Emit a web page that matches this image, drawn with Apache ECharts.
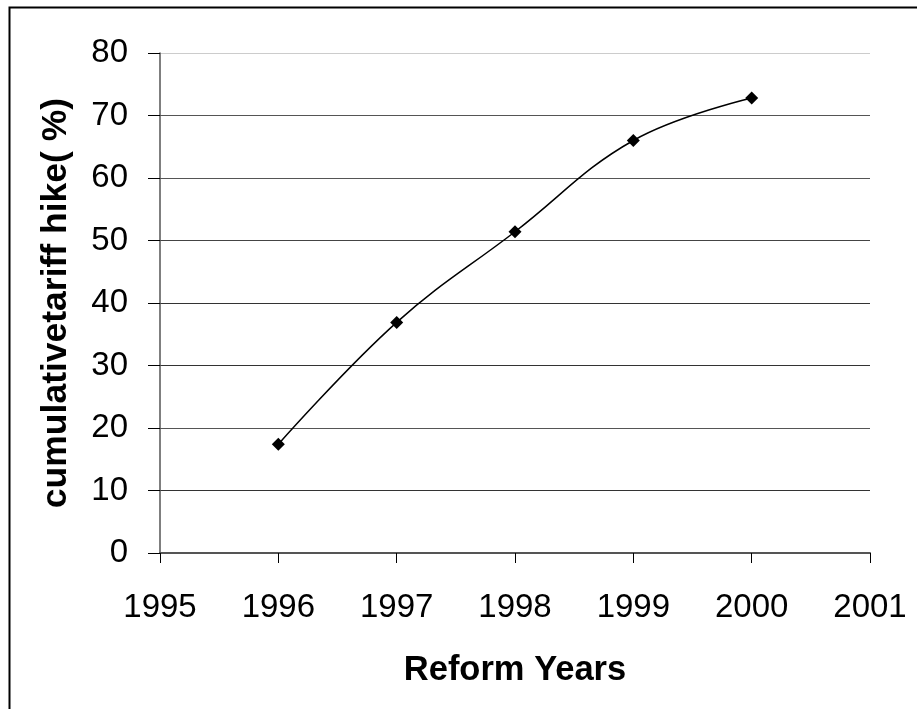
<!DOCTYPE html>
<html>
<head>
<meta charset="utf-8">
<script src="https://cdn.jsdelivr.net/npm/echarts@6/dist/echarts.min.js"></script>
<style>html,body{margin:0;padding:0;background:#fff}#c{width:917px;height:709px}</style>
</head>
<body>
<div id="c"></div>
<script>
var years = [1996, 1997, 1998, 1999, 2000];
var hike = [17.4, 36.9, 51.4, 66.0, 72.8];
var xTitle = 'Reform Years';
var yTitle = 'cumulativetariff hike( %)';

var chart = echarts.init(document.getElementById('c'), null, {renderer: 'canvas'});
var font = '"Liberation Sans", Arial, sans-serif';
chart.setOption({
  animation: false,
  backgroundColor: '#fff',
  graphic: [{
    type: 'rect',
    shape: {x: 9.5, y: 7.5, width: 1000, height: 1000},
    style: {fill: 'none', stroke: '#000', lineWidth: 2}
  }],
  grid: {left: 160, right: 47, top: 53, bottom: 156, containLabel: false},
  xAxis: {
    type: 'value', min: 1995, max: 2001, interval: 1,
    name: xTitle, nameLocation: 'middle', nameGap: 100,
    nameTextStyle: {fontFamily: font, fontSize: 34.5, fontWeight: 'bold', color: '#000'},
    axisLine: {show: true, lineStyle: {color: '#555', width: 2}},
    axisTick: {show: true, length: 10, lineStyle: {color: '#000', width: 1}},
    axisLabel: {fontFamily: font, fontSize: 33, color: '#000', margin: 38,
      formatter: function (v) { return String(v); }},
    splitLine: {show: false}
  },
  yAxis: {
    type: 'value', min: 0, max: 80, interval: 10,
    name: yTitle, nameLocation: 'middle', nameGap: 86,
    nameTextStyle: {fontFamily: font, fontSize: 35.5, fontWeight: 'bold', color: '#000'},
    axisLine: {show: true, lineStyle: {color: '#555', width: 1.5}},
    axisTick: {show: true, length: 12, lineStyle: {color: '#000', width: 1}},
    axisLabel: {fontFamily: font, fontSize: 33, color: '#000', margin: 32},
    splitLine: {show: true, lineStyle: {color: ['#555','#333','#555','#333','#333','#444','#555','#555','#ccc'], width: 1}}
  },
  series: [{
    type: 'line',
    data: years.map(function (y, i) { return [y, hike[i]]; }),
    smooth: 0.4,
    symbol: 'diamond',
    symbolSize: 13,
    itemStyle: {color: '#000'},
    lineStyle: {color: '#000', width: 1.5}
  }]
});
</script>
</body>
</html>
